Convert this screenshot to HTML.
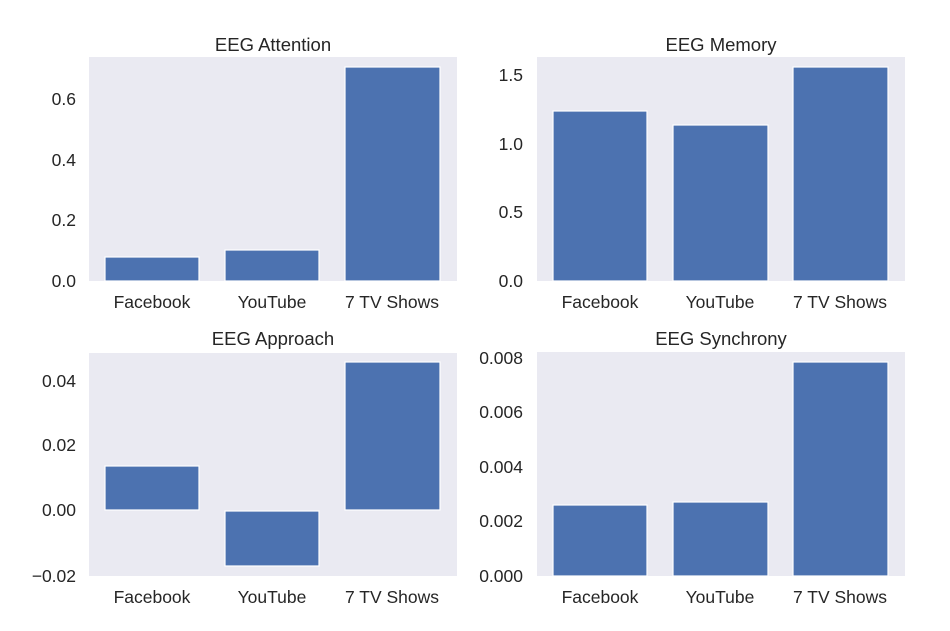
<!DOCTYPE html>
<html><head><meta charset="utf-8"><style>body{margin:0;background:#fff}svg{display:block}text{font-family:"Liberation Sans",Arial,sans-serif;fill:#262626}</style></head>
<body>
<svg width="950" height="631" viewBox="0 0 950 631" xmlns="http://www.w3.org/2000/svg">
<g font-size="17.5">
<!-- Panel 1 -->
<rect x="89" y="57" width="368" height="224" fill="#eaeaf2"/>
<g fill="#4c72b0" stroke="#fff" stroke-width="1.2">
<rect x="105" y="257" width="94" height="24"/>
<rect x="225" y="250" width="94" height="31"/>
<rect x="345" y="67" width="95" height="214"/>
</g>
<text x="273" y="51" text-anchor="middle" font-size="18.5">EEG Attention</text>
<g text-anchor="end"><text x="76" y="287">0.0</text><text x="76" y="226">0.2</text><text x="76" y="166">0.4</text><text x="76" y="105">0.6</text></g>
<g text-anchor="middle"><text x="152" y="308">Facebook</text><text x="272" y="308">YouTube</text><text x="392" y="308">7 TV Shows</text></g>

<!-- Panel 2 -->
<rect x="537" y="57" width="368" height="224" fill="#eaeaf2"/>
<g fill="#4c72b0" stroke="#fff" stroke-width="1.2">
<rect x="553" y="111" width="94" height="170"/>
<rect x="673" y="125" width="95" height="156"/>
<rect x="793" y="67" width="95" height="214"/>
</g>
<text x="721" y="51" text-anchor="middle" font-size="18.5">EEG Memory</text>
<g text-anchor="end"><text x="523" y="287">0.0</text><text x="523" y="218">0.5</text><text x="523" y="150">1.0</text><text x="523" y="81">1.5</text></g>
<g text-anchor="middle"><text x="600" y="308">Facebook</text><text x="720" y="308">YouTube</text><text x="840" y="308">7 TV Shows</text></g>

<!-- Panel 3 -->
<rect x="89" y="353" width="368" height="223" fill="#eaeaf2"/>
<g fill="#4c72b0" stroke="#fff" stroke-width="1.2">
<rect x="105" y="466" width="94" height="44"/>
<rect x="225" y="511" width="94" height="55"/>
<rect x="345" y="362" width="95" height="148"/>
</g>
<text x="273" y="345" text-anchor="middle" font-size="18.5">EEG Approach</text>
<g text-anchor="end"><text x="76" y="582">−0.02</text><text x="76" y="516">0.00</text><text x="76" y="451">0.02</text><text x="76" y="387">0.04</text></g>
<g text-anchor="middle"><text x="152" y="603">Facebook</text><text x="272" y="603">YouTube</text><text x="392" y="603">7 TV Shows</text></g>

<!-- Panel 4 -->
<rect x="537" y="352" width="368" height="224" fill="#eaeaf2"/>
<g fill="#4c72b0" stroke="#fff" stroke-width="1.2">
<rect x="553" y="505" width="94" height="71"/>
<rect x="673" y="502" width="95" height="74"/>
<rect x="793" y="362" width="95" height="214"/>
</g>
<text x="721" y="345" text-anchor="middle" font-size="18.5">EEG Synchrony</text>
<g text-anchor="end"><text x="523" y="582">0.000</text><text x="523" y="527">0.002</text><text x="523" y="473">0.004</text><text x="523" y="418">0.006</text><text x="523" y="364">0.008</text></g>
<g text-anchor="middle"><text x="600" y="603">Facebook</text><text x="720" y="603">YouTube</text><text x="840" y="603">7 TV Shows</text></g>
</g>
</svg>
</body></html>
